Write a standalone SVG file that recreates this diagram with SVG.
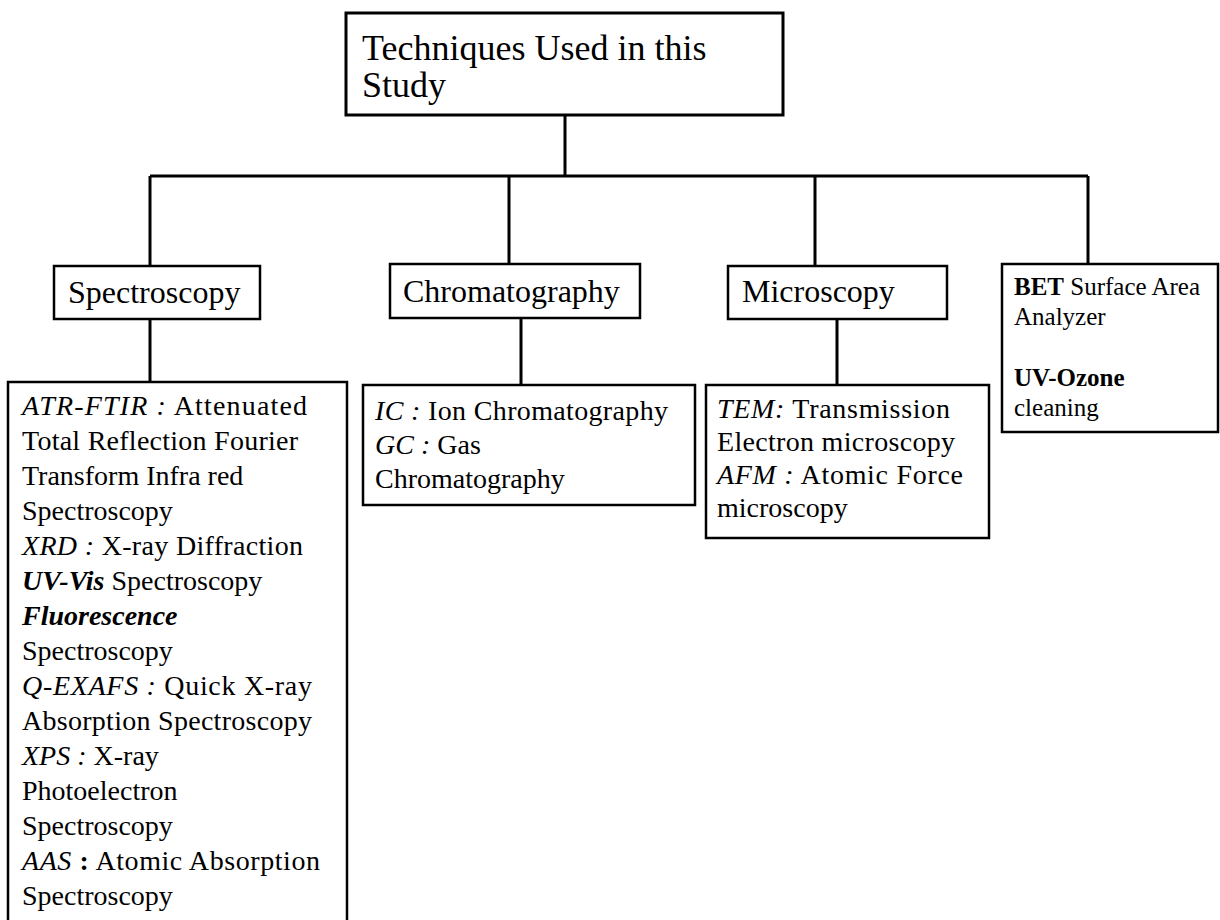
<svg xmlns="http://www.w3.org/2000/svg" width="1220" height="920" viewBox="0 0 1220 920">
<style>
  .box { fill: #ffffff; stroke: #000000; stroke-width: 2.5; }
  .conn { fill: none; stroke: #000000; stroke-width: 3; }
  text { font-family: "Liberation Serif", "Times New Roman", serif; fill: #000000; }
  .t36 { font-size: 36px; }
  .t32 { font-size: 32px; }
  .t28 { font-size: 28px; }
  .t25 { font-size: 25px; }
  .i { font-style: italic; }
  .b { font-weight: bold; }
</style>
<rect width="1220" height="920" fill="#ffffff"/>
<g id="connectors">
  <path class="conn" d="M565,115 V176"/>
  <path class="conn" d="M150,176 H1088"/>
  <path class="conn" d="M150,176 V266"/>
  <path class="conn" d="M509,176 V264"/>
  <path class="conn" d="M815,176 V266"/>
  <path class="conn" d="M1088,176 V264"/>
  <path class="conn" d="M150,319 V382"/>
  <path class="conn" d="M521,318 V385"/>
  <path class="conn" d="M837,319 V385"/>
</g>
<g id="root">
  <rect class="box" x="346" y="13" width="437" height="102" style="stroke-width:3"/>
  <text class="t36" x="362" y="60">Techniques Used in this</text>
  <text class="t36" x="362" y="97">Study</text>
</g>
<g id="spectroscopy">
  <rect class="box" x="54" y="266" width="206" height="53"/>
  <text class="t32" x="68" y="303">Spectroscopy</text>
</g>
<g id="chromatography">
  <rect class="box" x="390" y="264" width="250" height="54"/>
  <text class="t32" x="403" y="302">Chromatography</text>
</g>
<g id="microscopy">
  <rect class="box" x="728" y="266" width="219" height="53"/>
  <text class="t32" x="742" y="302">Microscopy</text>
</g>
<g id="bet">
  <rect class="box" x="1002" y="264" width="216" height="168"/>
  <text class="t25" x="1014" y="295"><tspan class="b">BET</tspan> Surface Area</text>
  <text class="t25" x="1014" y="325">Analyzer</text>
  <text class="t25" x="1014" y="386"><tspan class="b">UV-Ozone</tspan></text>
  <text class="t25" x="1014" y="416">cleaning</text>
</g>
<g id="spectroscopy-list">
  <rect class="box" x="8" y="382" width="339" height="545"/>
  <text class="t28" x="22" y="415" textLength="285" lengthAdjust="spacing"><tspan class="i">ATR-FTIR :</tspan>  Attenuated</text>
  <text class="t28" x="22" y="450" textLength="276" lengthAdjust="spacing">Total Reflection Fourier</text>
  <text class="t28" x="22" y="485">Transform Infra red</text>
  <text class="t28" x="22" y="520">Spectroscopy</text>
  <text class="t28" x="22" y="555" textLength="281" lengthAdjust="spacing"><tspan class="i">XRD :</tspan> X-ray Diffraction</text>
  <text class="t28" x="22" y="590"><tspan class="i b">UV-Vis</tspan> Spectroscopy</text>
  <text class="t28" x="22" y="625"><tspan class="i b">Fluorescence</tspan></text>
  <text class="t28" x="22" y="660">Spectroscopy</text>
  <text class="t28" x="22" y="695" textLength="290" lengthAdjust="spacing"><tspan class="i">Q-EXAFS :</tspan> Quick X-ray</text>
  <text class="t28" x="22" y="730" textLength="290" lengthAdjust="spacing">Absorption Spectroscopy</text>
  <text class="t28" x="22" y="765"><tspan class="i">XPS :</tspan> X-ray</text>
  <text class="t28" x="22" y="800">Photoelectron</text>
  <text class="t28" x="22" y="835">Spectroscopy</text>
  <text class="t28" x="22" y="870" textLength="298" lengthAdjust="spacing"><tspan class="i">AAS</tspan> <tspan class="b">:</tspan> Atomic Absorption</text>
  <text class="t28" x="22" y="905">Spectroscopy</text>
</g>
<g id="chromatography-list">
  <rect class="box" x="363" y="385" width="332" height="120"/>
  <text class="t28" x="375" y="420" textLength="293" lengthAdjust="spacing"><tspan class="i">IC :</tspan> Ion Chromatography</text>
  <text class="t28" x="375" y="454"><tspan class="i">GC :</tspan> Gas</text>
  <text class="t28" x="375" y="488">Chromatography</text>
</g>
<g id="microscopy-list">
  <rect class="box" x="706" y="385" width="283" height="153"/>
  <text class="t28" x="717" y="418" textLength="233" lengthAdjust="spacing"><tspan class="i">TEM:</tspan> Transmission</text>
  <text class="t28" x="717" y="451" textLength="238" lengthAdjust="spacing">Electron microscopy</text>
  <text class="t28" x="717" y="484" textLength="246" lengthAdjust="spacing"><tspan class="i">AFM :</tspan> Atomic Force</text>
  <text class="t28" x="717" y="517">microscopy</text>
</g>
</svg>
